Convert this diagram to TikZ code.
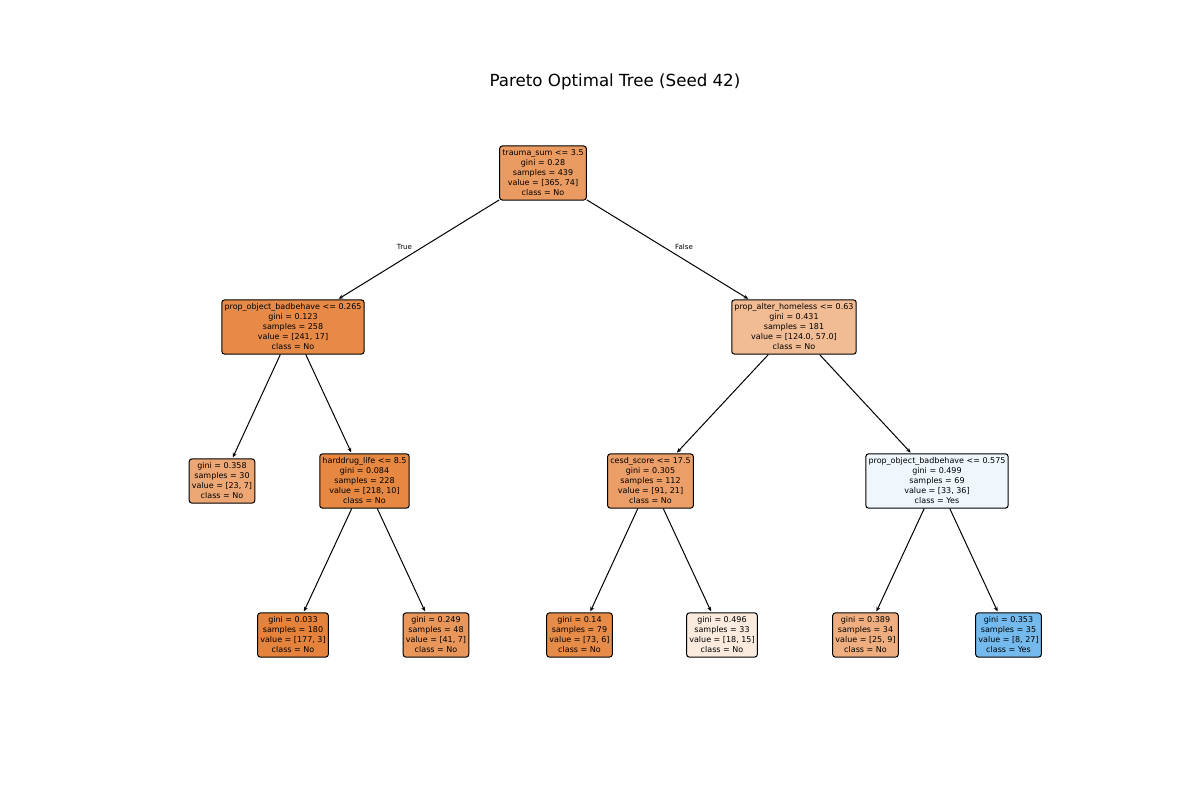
\documentclass[tikz,border=0pt]{standalone}
\usepackage{fontspec}
\setmainfont{DejaVu Sans}
\usetikzlibrary{arrows.meta}
% node fill colours (class colour blended with white by purity)
\definecolor{cRoot}{RGB}{234,155,97}
\definecolor{cA}{RGB}{231,138,71}
\definecolor{cB}{RGB}{241,187,148}
\definecolor{cAA}{RGB}{237,167,117}
\definecolor{cAB}{RGB}{230,135,66}
\definecolor{cBA}{RGB}{235,158,103}
\definecolor{cBB}{RGB}{239,247,253}
\definecolor{cABA}{RGB}{229,131,60}
\definecolor{cABB}{RGB}{233,150,91}
\definecolor{cBAA}{RGB}{231,139,73}
\definecolor{cBAB}{RGB}{251,234,222}
\definecolor{cBBA}{RGB}{238,174,128}
\definecolor{cBBB}{RGB}{116,186,237}
\tikzset{
  treenode/.style={draw=black, line width=0.75pt, rounded corners=2pt,
    align=center, inner xsep=2pt, inner ysep=3pt,
    font=\fontsize{6}{7.5}\selectfont},
  edge/.style={line width=0.75pt, -{Stealth[length=3.5pt,width=3pt]}, shorten >=0.8pt},
  edgelabel/.style={font=\fontsize{5.3}{6}\selectfont, inner sep=0pt}
}
\begin{document}
\begin{tikzpicture}[x=0.75pt, y=-0.75pt]
\useasboundingbox (0,0) rectangle (1200,800);

\node[font=\fontsize{12.5}{14}\selectfont] (title) at (615,82) {Pareto Optimal Tree (Seed 42)};

% depth 0
\node[treenode, fill=cRoot] (root) at (543,173)
  {trauma\_sum <= 3.5\\gini = 0.28\\samples = 439\\value = [365, 74]\\class = No};

% depth 1
\node[treenode, fill=cA] (a) at (293,327)
  {prop\_object\_badbehave <= 0.265\\gini = 0.123\\samples = 258\\value = [241, 17]\\class = No};
\node[treenode, fill=cB] (b) at (794,327)
  {prop\_alter\_homeless <= 0.63\\gini = 0.431\\samples = 181\\value = [124.0, 57.0]\\class = No};

% depth 2
\node[treenode, fill=cAA] (aa) at (222,481)
  {gini = 0.358\\samples = 30\\value = [23, 7]\\class = No};
\node[treenode, fill=cAB] (ab) at (364.5,481)
  {harddrug\_life <= 8.5\\gini = 0.084\\samples = 228\\value = [218, 10]\\class = No};
\node[treenode, fill=cBA] (ba) at (650.5,481)
  {cesd\_score <= 17.5\\gini = 0.305\\samples = 112\\value = [91, 21]\\class = No};
\node[treenode, fill=cBB] (bb) at (937,481)
  {prop\_object\_badbehave <= 0.575\\gini = 0.499\\samples = 69\\value = [33, 36]\\class = Yes};

% depth 3
\node[treenode, fill=cABA] (aba) at (293,635)
  {gini = 0.033\\samples = 180\\value = [177, 3]\\class = No};
\node[treenode, fill=cABB] (abb) at (436,635)
  {gini = 0.249\\samples = 48\\value = [41, 7]\\class = No};
\node[treenode, fill=cBAA] (baa) at (579.5,635)
  {gini = 0.14\\samples = 79\\value = [73, 6]\\class = No};
\node[treenode, fill=cBAB] (bab) at (722,635)
  {gini = 0.496\\samples = 33\\value = [18, 15]\\class = No};
\node[treenode, fill=cBBA] (bba) at (865.5,635)
  {gini = 0.389\\samples = 34\\value = [25, 9]\\class = No};
\node[treenode, fill=cBBB] (bbb) at (1008.5,635)
  {gini = 0.353\\samples = 35\\value = [8, 27]\\class = Yes};

% connectors
\draw[edge] (root) -- (a);
\draw[edge] (root) -- (b);
\draw[edge] (a) -- (aa);
\draw[edge] (a) -- (ab);
\draw[edge] (b) -- (ba);
\draw[edge] (b) -- (bb);
\draw[edge] (ab) -- (aba);
\draw[edge] (ab) -- (abb);
\draw[edge] (ba) -- (baa);
\draw[edge] (ba) -- (bab);
\draw[edge] (bb) -- (bba);
\draw[edge] (bb) -- (bbb);

\node[edgelabel] (ltrue) at (404.5,247) {True};
\node[edgelabel] (lfalse) at (684,247) {False};
\end{tikzpicture}
\end{document}
